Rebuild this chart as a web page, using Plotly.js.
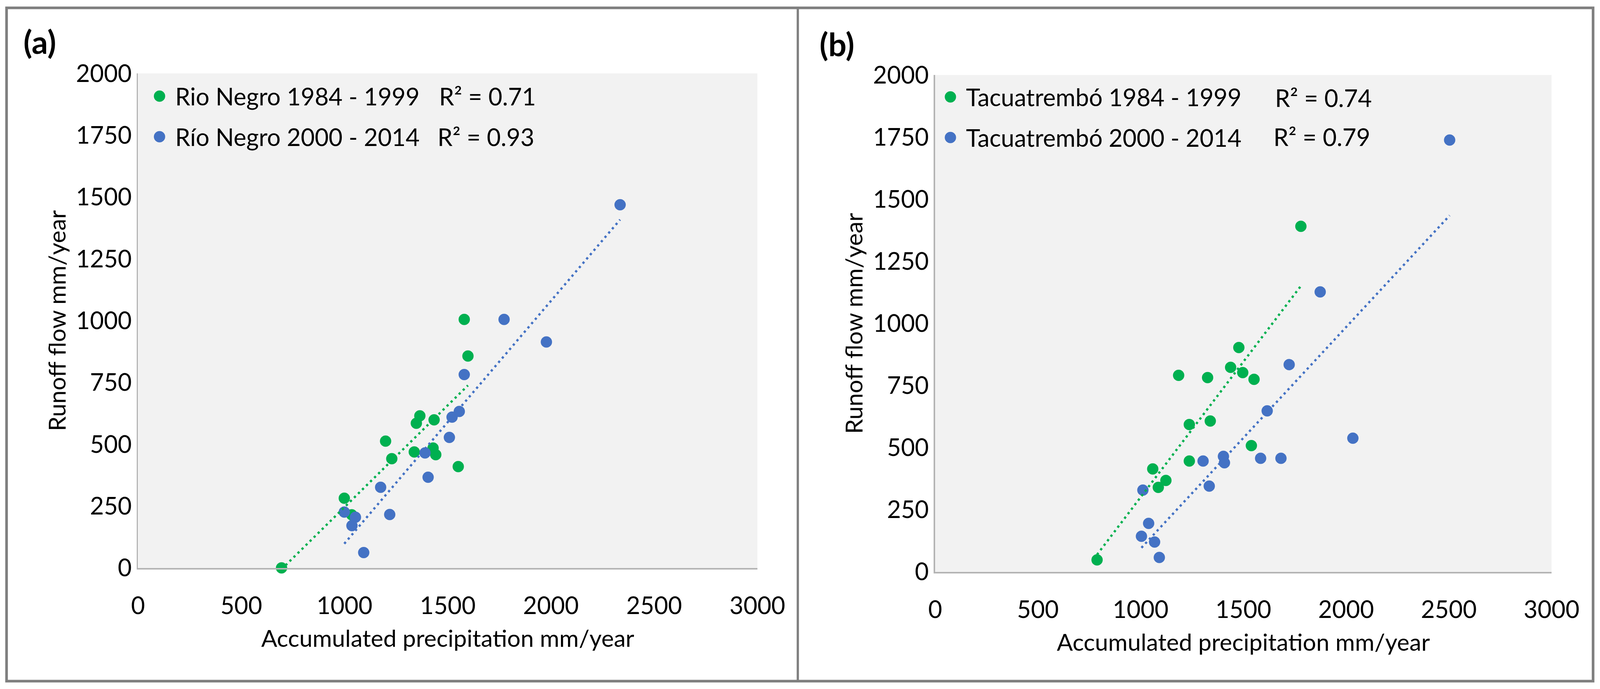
<!DOCTYPE html>
<html>
<head>
<meta charset="utf-8">
<script src="https://cdn.plot.ly/plotly-3.0.1.min.js"></script>
<style>
  html, body { margin: 0; padding: 0; background: #ffffff; overflow: hidden; }
  #outer { position: relative; overflow: hidden; background: #ffffff; }
  #chart { transform-origin: 0 0; }
</style>
</head>
<body>
<div id="outer"><div id="chart"></div></div>
<script>
// ---------------- DATA ----------------
// Panel (a) Rio Negro
var rnX1984 = [695, 999, 1035, 1199, 1229, 1338, 1348, 1365, 1434, 1429, 1442, 1551, 1580, 1598];
var rnY1984 = [0, 282, 215, 513, 442, 469, 585, 615, 599, 485, 458, 410, 1005, 857];
var rnX2000 = [2335, 1773, 1978, 1580, 1556, 1521, 1508, 1390, 1405, 1175, 1219, 999, 1053, 1036, 1093];
var rnY2000 = [1469, 1005, 914, 782, 633, 610, 528, 465, 367, 326, 216, 226, 205, 171, 62];
// Panel (b) Tacuatrembó
var tcX1984 = [788, 1059, 1086, 1123, 1237, 1237, 1339, 1185, 1326, 1438, 1497, 1552, 1478, 1539, 1780];
var tcY1984 = [48, 414, 340, 368, 446, 593, 607, 791, 782, 823, 802, 775, 903, 508, 1391];
var tcX2000 = [2504, 1874, 1723, 1616, 2033, 1584, 1683, 1403, 1408, 1304, 1334, 1011, 1039, 1004, 1068, 1091];
var tcY2000 = [1738, 1127, 834, 648, 538, 457, 457, 465, 439, 446, 345, 329, 195, 143, 120, 58];

var seriesNamesA = ["Rio Negro 1984 - 1999", "Río Negro 2000 - 2014"];
var seriesNamesB = ["Tacuatrembó 1984 - 1999", "Tacuatrembó 2000 - 2014"];
var r2LabelsA = ["R² = 0.71", "R² = 0.93"];
var r2LabelsB = ["R² = 0.74", "R² = 0.79"];
var panelLabels = ["(a)", "(b)"];
var xTicks = [0, 500, 1000, 1500, 2000, 2500, 3000];
var yTicks = [0, 250, 500, 750, 1000, 1250, 1500, 1750, 2000];
var xTitle = "Accumulated precipitation mm/year";
var yTitle = "Runoff flow mm/year";

// ---------------- STYLE ----------------
var REF_W = 4392, REF_H = 1765;             // reference picture size
var IW = window.innerWidth || REF_W, IH = window.innerHeight || REF_H;
var SX = IW / REF_W, SY = IH / REF_H, SF = (SX + SY) / 2;
var K = 0.5;                                 // drawing units per screen pixel
var W = IW * K, H = IH * K;
function ux(v) { return v * SX * K; }        // horizontal reference px -> drawing units
function uy(v) { return v * SY * K; }        // vertical reference px -> drawing units
function uf(v) { return v * SF * K; }        // marker / line sizes
function ut(v) { return v * SX * K; }        // text sizes (keep text widths in step with the layout)
var GREEN = "#00B050", BLUE = "#4472C4";
var FONT = "Lato, 'Open Sans', 'DejaVu Sans', sans-serif";
var FS = ut(66);
var FT = ut(65);
function px(x) { return x / REF_W; }
function py(y) { return 1 - y / REF_H; }

// least-squares linear trendline over the data's x span
function trend(xs, ys) {
  var n = xs.length, sx = 0, sy = 0;
  for (var i = 0; i < n; i++) { sx += xs[i]; sy += ys[i]; }
  var mx = sx / n, my = sy / n, num = 0, den = 0;
  for (var j = 0; j < n; j++) { num += (xs[j] - mx) * (ys[j] - my); den += (xs[j] - mx) * (xs[j] - mx); }
  var b = num / den, a = my - b * mx;
  var x0 = Math.min.apply(null, xs), x1 = Math.max.apply(null, xs);
  return { x: [x0, x1], y: [a + b * x0, a + b * x1] };
}

function pts(xs, ys, name, color, xa, ya, lg, grp) {
  return {
    type: "scatter", mode: "markers", x: xs, y: ys, name: name,
    xaxis: xa, yaxis: ya, legend: lg, legendgroup: grp, cliponaxis: false,
    marker: { size: uf(30), color: color }, hoverinfo: "x+y"
  };
}
function tl(xs, ys, color, xa, ya, lg, grp) {
  var t = trend(xs, ys);
  return {
    type: "scatter", mode: "lines", x: t.x, y: t.y, showlegend: false,
    xaxis: xa, yaxis: ya, legend: lg, legendgroup: grp, cliponaxis: false,
    line: { color: color, width: uf(6), dash: uf(6) + "px," + uf(9) + "px" }, hoverinfo: "skip"
  };
}

var data = [
  pts(rnX1984, rnY1984, seriesNamesA[0], GREEN, "x", "y", "legend", "a1"),
  pts(rnX2000, rnY2000, seriesNamesA[1], BLUE, "x", "y", "legend", "a2"),
  tl(rnX1984, rnY1984, GREEN, "x", "y", "legend", "a1"),
  tl(rnX2000, rnY2000, BLUE, "x", "y", "legend", "a2"),
  pts(tcX1984, tcY1984, seriesNamesB[0], GREEN, "x2", "y2", "legend2", "b1"),
  pts(tcX2000, tcY2000, seriesNamesB[1], BLUE, "x2", "y2", "legend2", "b2"),
  tl(tcX1984, tcY1984, GREEN, "x2", "y2", "legend2", "b1"),
  tl(tcX2000, tcY2000, BLUE, "x2", "y2", "legend2", "b2")
];

function xAxis(domain, anchor) {
  return {
    domain: domain, anchor: anchor, range: [0, 3000], tickvals: xTicks,
    showgrid: false, zeroline: false, showline: true, linecolor: "#B4B4B4", linewidth: uf(4),
    ticks: "", ticklabelstandoff: uy(40),
    tickfont: { family: FONT, size: FS, color: "#000" },
    title: { text: xTitle, standoff: uy(30), font: { family: FONT, size: FT, color: "#000" } },
    fixedrange: true
  };
}
function yAxis(domain, anchor) {
  return {
    domain: domain, anchor: anchor, range: [0, 2000], tickvals: yTicks,
    showgrid: false, zeroline: false, showline: true, linecolor: "#B4B4B4", linewidth: uf(4),
    ticks: "", ticklabelstandoff: ux(56),
    tickfont: { family: FONT, size: FS, color: "#000" },
    title: { text: yTitle, standoff: ux(8), font: { family: FONT, size: FT, color: "#000" } },
    fixedrange: true
  };
}
function legendCfg(x, y) {
  return {
    x: x, y: y, xanchor: "left", yanchor: "middle", xref: "paper", yref: "paper",
    bgcolor: "rgba(0,0,0,0)", borderwidth: 0, traceorder: "grouped", tracegroupgap: uy(18),
    itemwidth: 30, itemsizing: "trace",
    font: { family: FONT, size: FS, color: "#000" }
  };
}

function note(text, x, y, size) {
  return { text: text, x: px(x), y: py(y), xref: "paper", yref: "paper", xanchor: "left", yanchor: "middle",
    showarrow: false, font: { family: FONT, size: size, color: "#000" } };
}
var annotations = [
  note("<b>" + panelLabels[0] + "</b>", 60, 106, ut(88)),
  note("<b>" + panelLabels[1] + "</b>", 2245, 113, ut(88)),
  note(r2LabelsA[0], 1202, 247, FS),
  note(r2LabelsA[1], 1197, 351, FS),
  note(r2LabelsB[0], 3496, 251, FS),
  note(r2LabelsB[1], 3491, 351, FS)
];

var shapes = [
  { type: "rect", xref: "paper", yref: "paper", x0: px(18), x1: px(4373), y0: py(1744), y1: py(20),
    line: { color: "#7F7F7F", width: uf(7) }, fillcolor: "rgba(0,0,0,0)", layer: "above" },
  { type: "line", xref: "paper", yref: "paper", x0: px(2190), x1: px(2190), y0: py(1744), y1: py(20),
    line: { color: "#7F7F7F", width: uf(6) }, layer: "above" }
];

var layout = {
  width: W, height: H,
  margin: { l: 0, r: 0, t: 0, b: 0, pad: 0 },
  paper_bgcolor: "#ffffff", plot_bgcolor: "#F2F2F2",
  font: { family: FONT, size: FS, color: "#000" },
  xaxis: xAxis([px(379), px(2079)], "y"),
  yaxis: yAxis([py(1454), py(188)], "x"),
  xaxis2: xAxis([px(2567), px(4259)], "y2"),
  yaxis2: yAxis([py(1464), py(192)], "x2"),
  legend: legendCfg(px(395), py(299)),
  legend2: legendCfg(px(2566), py(301)),
  annotations: annotations,
  shapes: shapes,
  showlegend: true,
  hovermode: "closest"
};

// fill the window the page is opened in
var outer = document.getElementById("outer");
var chart = document.getElementById("chart");
outer.style.width = IW + "px";
outer.style.height = IH + "px";
chart.style.width = W + "px";
chart.style.height = H + "px";
chart.style.transform = "scale(" + (1 / K) + ")";

Plotly.newPlot("chart", data, layout, { displayModeBar: false, responsive: false, staticPlot: true });
</script>
</body>
</html>
